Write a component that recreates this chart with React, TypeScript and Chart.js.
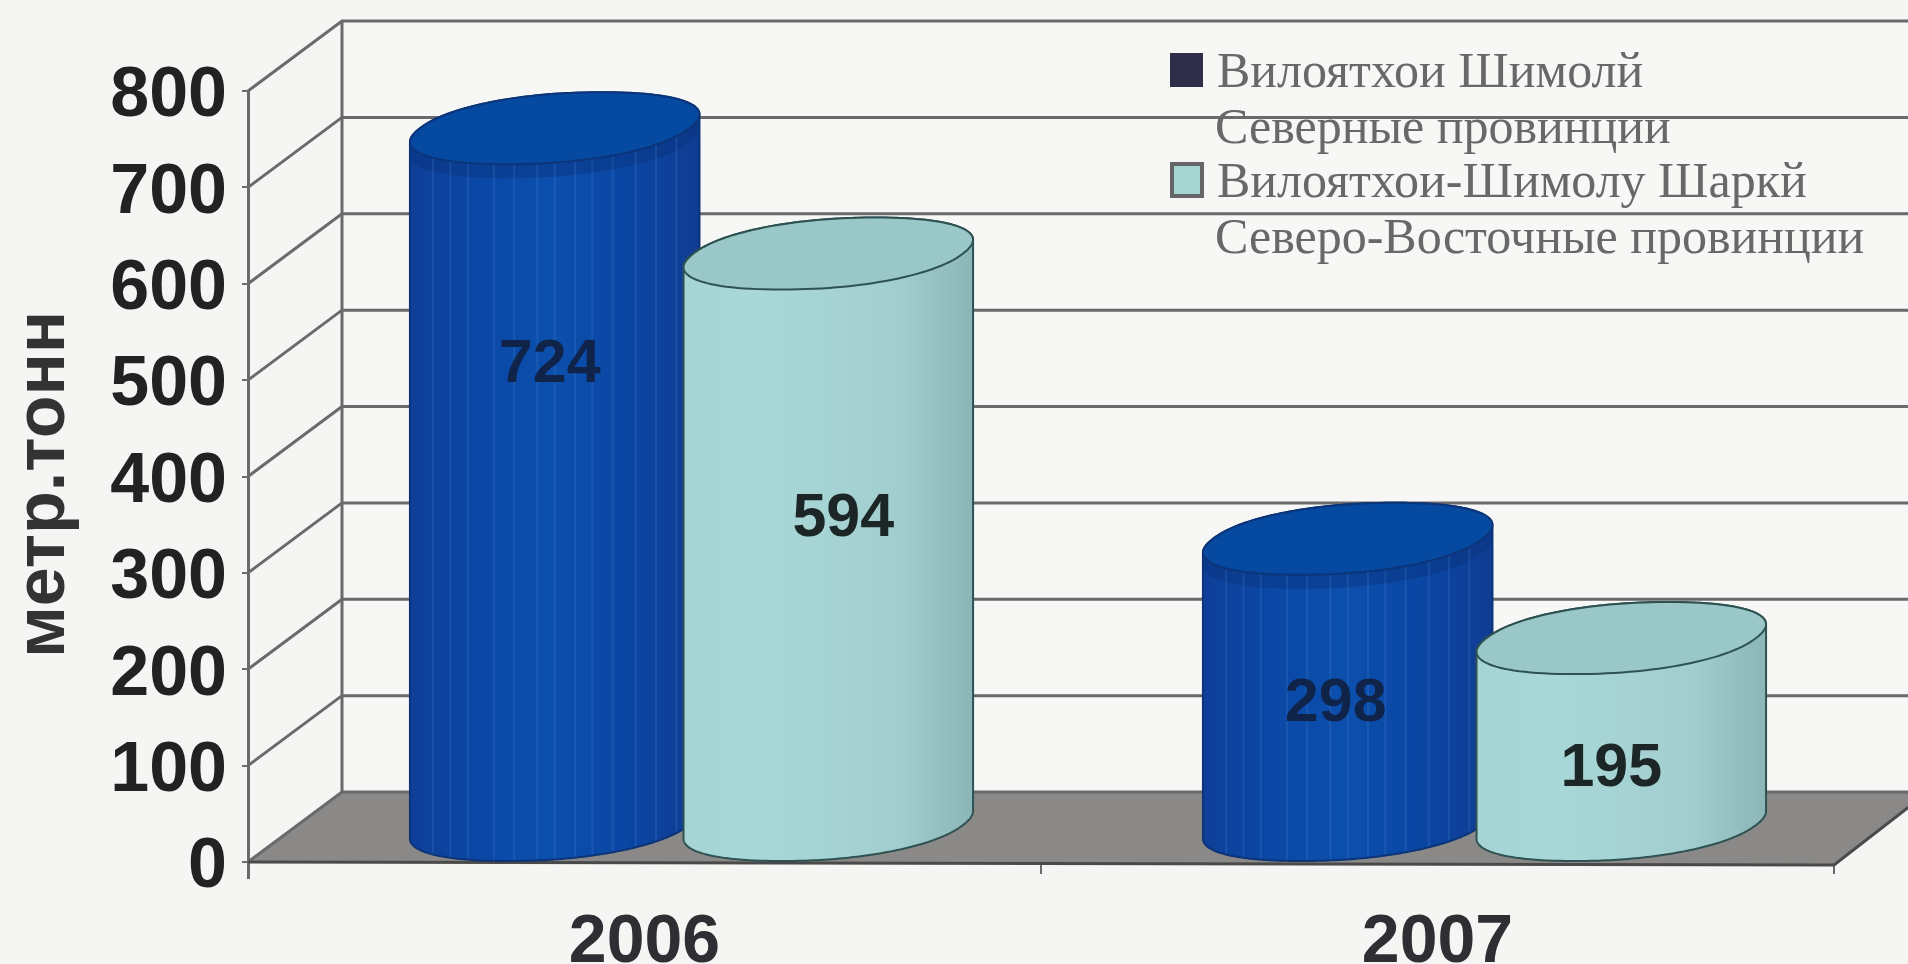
import React, { useEffect, useRef } from "react";
import { Chart, registerables } from "chart.js";

Chart.register(...registerables);

const categories = ["2006", "2007"];
const northValues = [724, 298];
const northEastValues = [594, 195];
const northLegend = ["Вилоятхои Шимолй", "Северные провинции"];
const northEastLegend = ["Вилоятхои-Шимолу Шаркй", "Северо-Восточные провинции"];
const axisTitle = "метр.тонн";
const yMax = 800;
const yStep = 100;

const DEPTH_X = 94;
const DEPTH_Y = 72;
const ROUNDNESS = 0.92;
const WIDTH_FIT = 0.985;
const GRID = "#6a6a6a";
const LABEL_SHIFT = [
  [[-5, -111], [-12, 22]],
  [[15, -20], [-10, 38]],
];
const STREAKS = [0.08, 0.14, 0.2, 0.29, 0.36, 0.44, 0.5, 0.57, 0.63, 0.7, 0.78, 0.85, 0.92];

const STYLES = [
  {
    stops: ["#0e3f98", "#0a48a6", "#0c4fac", "#0a46a4", "#103c92"],
    top: "#0649a1",
    edge: "#0c3478",
    streak: "rgba(90,150,220,0.18)",
    band: "rgba(8,50,125,0.45)",
  },
  {
    stops: ["#a6d4d4", "#a9d8d8", "#a6d3d4", "#a2cdce", "#8bb5b6"],
    top: "#9ac8c8",
    edge: "#2e5252",
    streak: "",
    band: "",
  },
];

function spow(v: number) {
  return Math.sign(v) * Math.pow(Math.abs(v), ROUNDNESS);
}

function ellipsePoint(cx: number, cy: number, a: number, t: number) {
  const c = spow(Math.cos(t));
  const s = spow(Math.sin(t));
  return [cx + a * c + (DEPTH_X / 2) * s, cy - (DEPTH_Y / 2) * s];
}

function rightmostAngle(a: number) {
  let best = 0;
  let bestX = -Infinity;
  for (let i = 0; i < 720; i++) {
    const t = (i / 720) * 2 * Math.PI;
    const [x] = ellipsePoint(0, 0, a, t);
    if (x > bestX) {
      bestX = x;
      best = t;
    }
  }
  return best;
}

function traceArc(path: Path2D, cx: number, cy: number, a: number, from: number, to: number, move: boolean) {
  const n = 120;
  for (let i = 0; i <= n; i++) {
    const [x, y] = ellipsePoint(cx, cy, a, from + ((to - from) * i) / n);
    if (i === 0 && move) path.moveTo(x, y);
    else path.lineTo(x, y);
  }
}

const scenePlugin = {
  id: "scene",
  afterLayout(chart: any) {
    // the axis title sits a little below the middle of the axis
    chart.scales.y.bottom += 16;
  },
  beforeDraw(chart: any) {
    const { ctx, width, height } = chart;
    ctx.save();
    ctx.fillStyle = "#f5f5f4";
    ctx.fillRect(0, 0, width, height);
    ctx.restore();
  },
  beforeDatasetsDraw(chart: any) {
    const { ctx, chartArea, scales, width } = chart;
    const y = scales.y;
    const left = chartArea.left;
    const right = chartArea.right;
    const y0 = y.getPixelForValue(0);
    const depthY = 70;
    ctx.save();
    ctx.fillStyle = "#f7f7f6";
    ctx.fillRect(left + DEPTH_X, y.getPixelForValue(yMax) - depthY, width, y0 - y.getPixelForValue(yMax));
    ctx.beginPath();
    ctx.moveTo(left, y0);
    ctx.lineTo(right, y0 + 3);
    ctx.lineTo(right + DEPTH_X, y0 - depthY);
    ctx.lineTo(left + DEPTH_X, y0 - depthY);
    ctx.closePath();
    ctx.fillStyle = "#8b8987";
    ctx.fill();
    ctx.strokeStyle = GRID;
    ctx.lineWidth = 3;
    for (let v = 0; v <= yMax; v += yStep) {
      const py = y.getPixelForValue(v);
      ctx.beginPath();
      ctx.moveTo(left, py);
      ctx.lineTo(left + DEPTH_X, py - depthY);
      ctx.lineTo(width, py - depthY);
      ctx.stroke();
    }
    ctx.beginPath();
    ctx.moveTo(left + DEPTH_X, y.getPixelForValue(yMax) - depthY);
    ctx.lineTo(left + DEPTH_X, y0 - depthY);
    ctx.stroke();
    ctx.strokeStyle = "#4a4a4a";
    ctx.beginPath();
    ctx.moveTo(left, y0);
    ctx.lineTo(right, y0 + 3);
    ctx.lineTo(right + DEPTH_X, y0 - depthY);
    ctx.stroke();
    ctx.restore();
  },
  afterDatasetsDraw(chart: any) {
    const { ctx } = chart;
    const count = chart.data.labels.length;
    for (let c = 0; c < count; c++) {
      chart.data.datasets.forEach((ds: any, d: number) => {
        const el = chart.getDatasetMeta(d).data[c];
        const st = STYLES[d];
        const a = (el.width / 2) * WIDTH_FIT;
        const cx = el.x + DEPTH_X / 2;
        const topY = el.y - DEPTH_Y / 2;
        const baseY = el.base - DEPTH_Y / 2;
        const t0 = rightmostAngle(a);
        const [rx] = ellipsePoint(0, 0, a, t0);
        ctx.save();
        const grad = ctx.createLinearGradient(cx - rx, 0, cx + rx, 0);
        st.stops.forEach((s: string, i: number) => grad.addColorStop(i / (st.stops.length - 1), s));
        const body = new Path2D();
        traceArc(body, cx, baseY, a, t0 + Math.PI, t0 + 2 * Math.PI, true);
        traceArc(body, cx, topY, a, t0, t0 + Math.PI, false);
        body.closePath();
        ctx.fillStyle = grad;
        ctx.fill(body);
        ctx.save();
        ctx.clip(body);
        if (st.band) {
          const band = new Path2D();
          traceArc(band, cx, topY + 14, a, 0, 2 * Math.PI, true);
          band.closePath();
          ctx.fillStyle = st.band;
          ctx.fill(band);
        }
        if (st.streak) {
          ctx.strokeStyle = st.streak;
          ctx.lineWidth = 2;
          STREAKS.forEach((f) => {
            const sx = cx - rx + 2 * rx * f;
            ctx.beginPath();
            ctx.moveTo(sx, topY);
            ctx.lineTo(sx, baseY + DEPTH_Y / 2);
            ctx.stroke();
          });
        }
        ctx.restore();
        ctx.strokeStyle = st.edge;
        ctx.lineWidth = 2;
        ctx.stroke(body);
        const lid = new Path2D();
        traceArc(lid, cx, topY, a, 0, 2 * Math.PI, true);
        lid.closePath();
        ctx.fillStyle = st.top;
        ctx.fill(lid);
        ctx.stroke(lid);
        const [sx, sy] = LABEL_SHIFT[d][c];
        ctx.fillStyle = d === 0 ? "#10244a" : "#1c2626";
        ctx.font = 'bold 61px "Liberation Sans"';
        ctx.textAlign = "center";
        ctx.textBaseline = "middle";
        ctx.fillText(String(ds.data[c]), cx + sx, (topY + baseY) / 2 + sy);
        ctx.restore();
      });
    }
    ctx.save();
    const lines = [...northLegend, ...northEastLegend];
    const baselines = [87, 143, 197, 253];
    const xs = [1217, 1215, 1217, 1215];
    ctx.font = '50px "Liberation Serif"';
    ctx.fillStyle = "#686868";
    ctx.textAlign = "left";
    ctx.textBaseline = "alphabetic";
    lines.forEach((t, i) => ctx.fillText(t, xs[i], baselines[i]));
    ctx.fillStyle = "#2e2e48";
    ctx.fillRect(1170, 53, 33, 34);
    ctx.fillStyle = "#a6d6d0";
    ctx.strokeStyle = "#666";
    ctx.lineWidth = 4;
    ctx.fillRect(1172, 164, 30, 32);
    ctx.strokeRect(1172, 164, 30, 32);
    ctx.restore();
  },
};

export default function App() {
  const ref = useRef<HTMLCanvasElement>(null);
  useEffect(() => {
    const chart = new Chart(ref.current as HTMLCanvasElement, {
      type: "bar",
      data: {
        labels: categories,
        datasets: [
          { label: northLegend[0], data: northValues, backgroundColor: "rgba(0,0,0,0)", borderWidth: 0 },
          { label: northEastLegend[0], data: northEastValues, backgroundColor: "rgba(0,0,0,0)", borderWidth: 0 },
        ],
      },
      plugins: [scenePlugin],
      options: {
        animation: false,
        responsive: false,
        maintainAspectRatio: false,
        events: [],
        layout: { padding: { top: 91, right: 74, left: 0, bottom: 0 } },
        datasets: { bar: { categoryPercentage: 0.69, barPercentage: 1 } },
        plugins: { legend: { display: false }, tooltip: { enabled: false } },
        scales: {
          x: {
            afterFit: (s: any) => { s.height = 102; },
            grid: { drawOnChartArea: false, drawTicks: true, tickLength: 12, color: GRID, lineWidth: 2 },
            border: { display: false },
            ticks: { padding: 28, color: "#2f2f33", font: { family: '"Liberation Sans"', weight: "bold", size: 68 }, maxRotation: 0 },
          },
          y: {
            min: 0,
            max: yMax,
            afterFit: (s: any) => { s.width = 248; },
            grid: { drawOnChartArea: false, drawTicks: true, tickLength: 6, color: GRID, lineWidth: 2 },
            border: { display: true, color: GRID, width: 3 },
            ticks: { stepSize: yStep, padding: 15, labelOffset: 6, color: "#222", font: { family: '"Liberation Sans"', weight: "bold", size: 70 } },
            title: { display: true, text: axisTitle, color: "#333", padding: { top: 3, bottom: 0 }, font: { family: '"Liberation Sans"', weight: "bold", size: 70 } },
          },
        },
      },
    } as any);
    return () => chart.destroy();
  }, []);
  return (
    <div style={{ position: "fixed", left: 0, top: 0, width: 1908, height: 964 }}>
      <canvas ref={ref} width={1908} height={964} style={{ display: "block", filter: "blur(0.7px)" }} />
    </div>
  );
}
